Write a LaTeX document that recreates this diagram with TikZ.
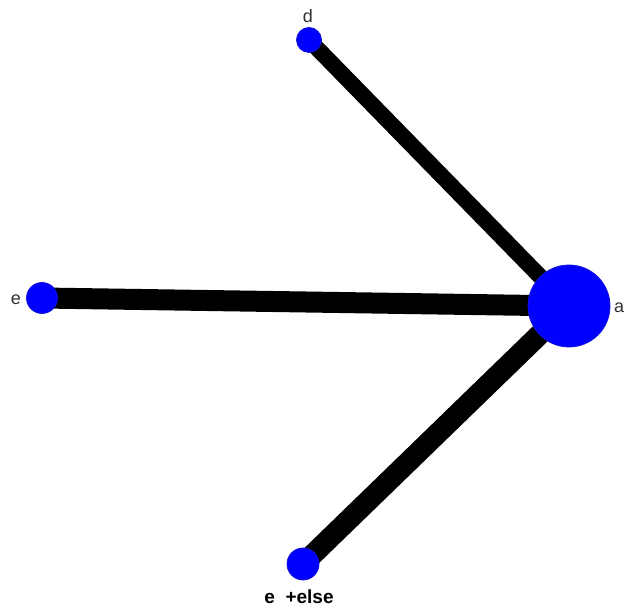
\documentclass[tikz,border=0pt]{standalone}
\usepackage{fontspec}
\setmainfont{Liberation Sans}
\begin{document}
\begin{tikzpicture}[x=1pt,y=1pt,
  vert/.style={circle,fill={rgb,255:red,0;green,0;blue,255},draw={rgb,255:red,20;green,20;blue,220},line width=0.8pt,inner sep=0pt,minimum size=#1},
  lbl/.style={font=\fontsize{18}{18}\selectfont,text={rgb,255:red,50;green,50;blue,50},inner sep=0pt},
  edge/.style={line width=#1,black}]
\useasboundingbox (0,0) rectangle (629,615);
\fill[white] (0,0) rectangle (629,615);
\coordinate (pa) at (569,309);
\coordinate (pd) at (309,575);
\coordinate (pe) at (42,317);
\coordinate (pb) at (303,51);
\draw[edge=16pt] (pd) -- (pa);
\draw[edge=21pt] (pe) -- (pa);
\draw[edge=21pt] (pb) -- (pa);
\node[vert=82pt] (a) at (pa) {};
\node[vert=25pt] (d) at (pd) {};
\node[vert=31pt] (e) at (pe) {};
\node[vert=32pt] (b) at (pb) {};
\node[lbl,anchor=base] (la) at (619,302) {a};
\node[lbl,anchor=base] (ld) at (308,592) {d};
\node[lbl,anchor=base] (le) at (16,310) {e};
\node[font=\bfseries\fontsize{19}{19}\selectfont,inner sep=0pt,anchor=base] (lb) at (299,11) {e\ \ +else};
\end{tikzpicture}
\end{document}
